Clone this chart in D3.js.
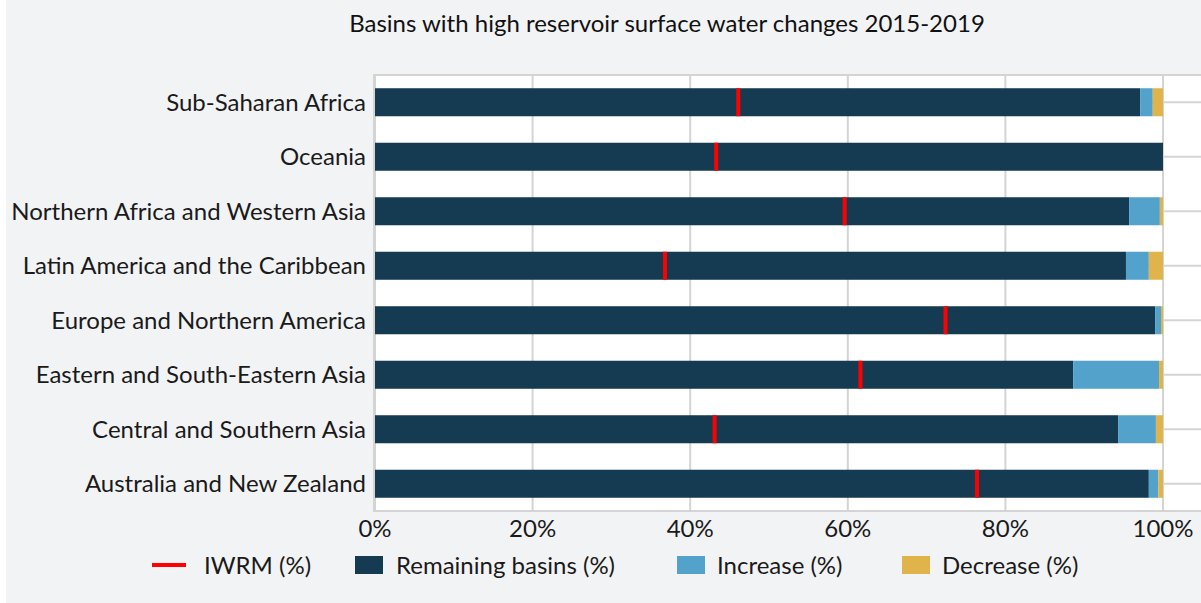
<!DOCTYPE html>
<html>
<head>
<meta charset="utf-8">
<script src="https://cdn.jsdelivr.net/npm/d3@7"></script>
<style>
  body { margin: 0; background: #fff; }
  svg { display: block; font-family: Lato, "Noto Sans", sans-serif; }
</style>
</head>
<body>
<svg id="chart" width="1201" height="603"></svg>
<script>
// data
var regions = ["Sub-Saharan Africa", "Oceania", "Northern Africa and Western Asia",
	"Latin America and the Caribbean", "Europe and Northern America",
	"Eastern and South-Eastern Asia", "Central and Southern Asia", "Australia and New Zealand"];
var remaining = [97.1, 100, 95.7, 95.3, 99.0, 88.6, 94.3, 98.2];
var increase = [1.6, 0, 3.9, 2.9, 0.75, 10.9, 4.8, 1.2];
var decrease = [1.3, 0, 0.4, 1.8, 0.25, 0.5, 0.9, 0.6];
var iwrm = [46.1, 43.3, 59.6, 36.8, 72.4, 61.6, 43.1, 76.4];
var ticks = [0, 20, 40, 60, 80, 100];

var colors = {remaining: "#143b51", increase: "#52a2cc", decrease: "#e0b44b", iwrm: "#ff0000"};

var svg = d3.select("#chart");

// background panel
svg.append("rect").attr("x", 6).attr("y", 0).attr("width", 1195).attr("height", 603).attr("fill", "#f2f3f5");

var x = d3.scaleLinear().domain([0, 100]).range([375, 1163]),
	y = d3.scaleBand().domain(regions).range([75, 511]).paddingInner(0.486).paddingOuter(0.243);

// plot area
svg.append("rect").attr("x", 374).attr("y", 75).attr("width", 840).attr("height", 436).attr("fill", "#fff");

// horizontal gridlines (at category centre)
svg.append("g").selectAll("line").data(regions).join("line")
	.attr("x1", 374).attr("x2", 1210)
	.attr("y1", function(d) { return y(d) + y.bandwidth()/2; })
	.attr("y2", function(d) { return y(d) + y.bandwidth()/2; })
	.attr("stroke", "#d4d4d4").attr("stroke-width", 2);

// vertical gridlines
svg.append("g").selectAll("line").data(ticks).join("line")
	.attr("x1", function(d) { return x(d); }).attr("x2", function(d) { return x(d); })
	.attr("y1", 75).attr("y2", 511)
	.attr("stroke", "#d4d4d4").attr("stroke-width", 2);

// frame
svg.append("line").attr("x1", 374).attr("x2", 1210).attr("y1", 75).attr("y2", 75).attr("stroke", "#d4d4d4").attr("stroke-width", 2);
svg.append("line").attr("x1", 374).attr("x2", 1210).attr("y1", 511).attr("y2", 511).attr("stroke", "#d4d4d4").attr("stroke-width", 2);
svg.append("line").attr("x1", 374).attr("x2", 374).attr("y1", 74).attr("y2", 512).attr("stroke", "#d4d4d4").attr("stroke-width", 2);

// stacked bars
var rows = regions.map(function(r, i) {
	return {region: r, remaining: remaining[i], increase: increase[i], decrease: decrease[i]};
});
var stack = d3.stack().keys(["remaining", "increase", "decrease"])(rows);

svg.append("g").selectAll("g").data(stack).join("g")
	.attr("fill", function(s) { return colors[s.key]; })
	.selectAll("rect").data(function(s) { return s; }).join("rect")
	.attr("x", function(d) { return x(d[0]); })
	.attr("width", function(d) { return Math.max(0, x(d[1]) - x(d[0])); })
	.attr("y", function(d) { return y(d.data.region); })
	.attr("height", y.bandwidth());

// IWRM markers
svg.append("g").selectAll("rect").data(iwrm).join("rect")
	.attr("x", function(d) { return x(d) - 2; })
	.attr("width", 4)
	.attr("y", function(d, i) { return y(regions[i]); })
	.attr("height", y.bandwidth())
	.attr("fill", colors.iwrm);

// category labels
svg.append("g").selectAll("text").data(regions).join("text")
	.attr("x", 366)
	.attr("y", function(d) { return y(d) + y.bandwidth()/2; })
	.attr("dy", "0.35em")
	.attr("text-anchor", "end")
	.attr("font-size", 24)
	.attr("fill", "#1a1a1a")
	.text(function(d) { return d; });

// x tick labels
svg.append("g").selectAll("text").data(ticks).join("text")
	.attr("x", function(d) { return x(d); })
	.attr("y", 537)
	.attr("text-anchor", "middle")
	.attr("font-size", 24)
	.attr("fill", "#1a1a1a")
	.text(function(d) { return d + "%"; });

// title
svg.append("text").attr("x", 667).attr("y", 32).attr("text-anchor", "middle")
	.attr("font-size", 24).attr("fill", "#111")
	.text("Basins with high reservoir surface water changes 2015-2019");

// legend
var legend = [
	{label: "IWRM (%)", key: "iwrm", sx: 152, tx: 204},
	{label: "Remaining basins (%)", key: "remaining", sx: 355, tx: 396},
	{label: "Increase (%)", key: "increase", sx: 677, tx: 717},
	{label: "Decrease (%)", key: "decrease", sx: 902, tx: 942}
];
var lg = svg.append("g").selectAll("g").data(legend).join("g");
lg.each(function(d) {
	var g = d3.select(this);
	if (d.key === "iwrm") {
		g.append("line").attr("x1", d.sx).attr("x2", d.sx + 34).attr("y1", 565).attr("y2", 565)
			.attr("stroke", colors.iwrm).attr("stroke-width", 4);
	} else {
		g.append("rect").attr("x", d.sx).attr("y", 556).attr("width", 28).attr("height", 18)
			.attr("fill", colors[d.key]);
	}
	g.append("text").attr("x", d.tx).attr("y", 574).attr("font-size", 24).attr("fill", "#1a1a1a").text(d.label);
});
</script>
</body>
</html>
